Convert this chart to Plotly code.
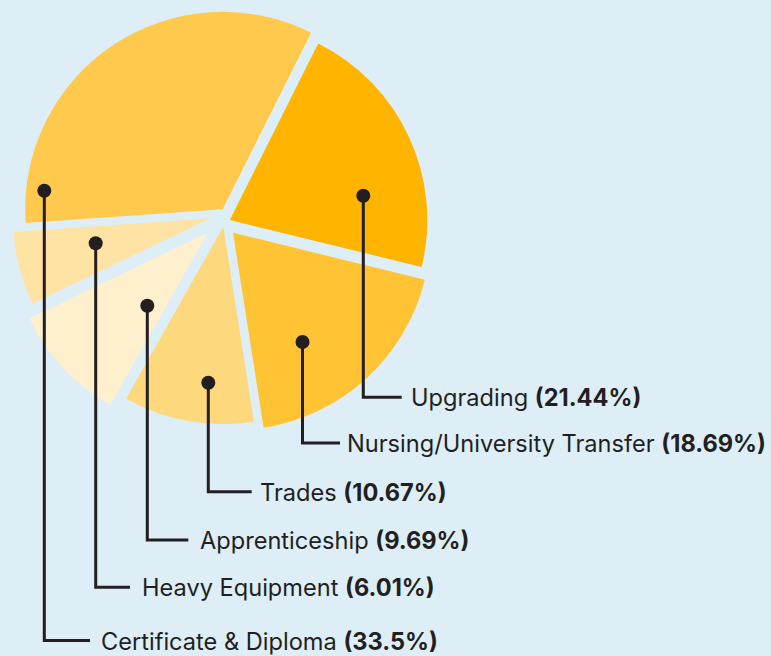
import plotly.graph_objects as go

# ---------------- data ----------------
categories = ["Upgrading", "Nursing/University Transfer", "Trades",
              "Apprenticeship", "Heavy Equipment", "Certificate & Diploma"]
shares = [21.44, 18.69, 10.67, 9.69, 6.01, 33.5]

# ---------------- style / layout config ----------------
W, H = 771, 656
BG = "#DEEEF7"
INK = "#231F20"
slice_colors = ["#FFB400", "#FFC334", "#FDD87C", "#FFF0CD", "#FFE3A4", "#FFC94E"]
# exploded centre of each slice (pixels from top-left) and common radius
slice_centers = [(229.8, 220.0), (233.0, 232.7), (223.3, 226.7),
                 (207.5, 233.0), (210.5, 218.3), (222.7, 209.3)]
RADIUS = 197.5
ROTATION = 26.6
# leader geometry: dot position, elbow y, end x of horizontal, text start x
dots = [(363.3, 195.7), (302.5, 342.0), (208.3, 382.7),
        (147.3, 305.7), (95.7, 243.3), (44.3, 190.7)]
elbow_y = [397.3, 443.0, 491.7, 540.0, 587.3, 640.5]
line_end_x = [401.7, 340.0, 251.7, 188.3, 130.0, 90.0]
text_x = [409.5, 346.0, 259.0, 199.0, 140.5, 99.5]

FONT = "Inter"
FONT_SIZE = 23.6


def fx(x):
    return x / W


def fy(y):
    return 1 - y / H


fig = go.Figure()

n = len(categories)
for i in range(n):
    cx, cy = slice_centers[i]
    cols = [slice_colors[i] if j == i else "rgba(0,0,0,0)" for j in range(n)]
    fig.add_trace(go.Pie(
        labels=categories,
        values=shares,
        sort=False,
        direction="clockwise",
        rotation=ROTATION,
        marker=dict(colors=cols, line=dict(width=0)),
        textinfo="none",
        hoverinfo="skip",
        showlegend=False,
        domain=dict(x=[fx(cx - RADIUS), fx(cx + RADIUS)],
                    y=[fy(cy + RADIUS), fy(cy - RADIUS)]),
    ))

shapes = []
annotations = []
DOT_R = 7
for i in range(n):
    dx, dy = dots[i]
    ey = elbow_y[i]
    ex = line_end_x[i]
    shapes.append(dict(
        type="path", xref="paper", yref="paper", layer="above",
        path=f"M{fx(dx)},{fy(dy)} L{fx(dx)},{fy(ey)} L{fx(ex)},{fy(ey)}",
        line=dict(color=INK, width=3),
    ))
    shapes.append(dict(
        type="circle", xref="paper", yref="paper", layer="above",
        x0=fx(dx - DOT_R), x1=fx(dx + DOT_R),
        y0=fy(dy + DOT_R), y1=fy(dy - DOT_R),
        fillcolor=INK, line=dict(width=0),
    ))
    annotations.append(dict(
        x=fx(text_x[i]), y=fy(ey + 0.5), xref="paper", yref="paper",
        xanchor="left", yanchor="middle", showarrow=False,
        text=f"{categories[i]} <b>({shares[i]}%)</b>",
        font=dict(family=FONT, size=FONT_SIZE, color=INK),
        borderpad=0,
    ))

fig.update_layout(
    width=W, height=H,
    margin=dict(l=0, r=0, t=0, b=0),
    paper_bgcolor=BG, plot_bgcolor=BG,
    showlegend=False,
    shapes=shapes,
    annotations=annotations,
)

fig.write_html(
    "out.html",
    config={"displayModeBar": False},
    post_script=(
        "document.body.style.margin='0';"
        "document.body.style.padding='0';"
        "document.body.style.background='" + BG + "';"
        "document.body.style.overflow='hidden';"
    ),
)
